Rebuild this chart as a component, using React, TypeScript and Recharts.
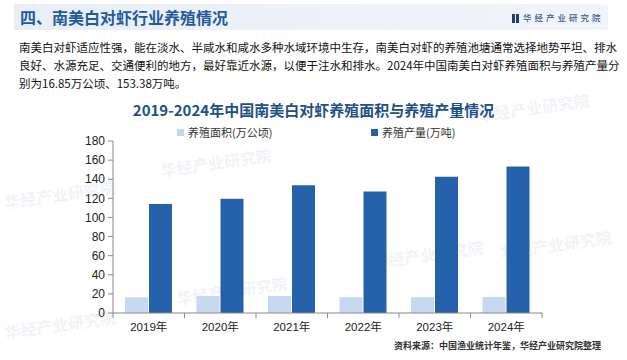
import React from "react";
import { BarChart, Bar, XAxis, YAxis } from "recharts";

const years = ["2019年", "2020年", "2021年", "2022年", "2023年", "2024年"];
const areaValues = [16.4, 17.8, 17.8, 16.5, 16.6, 16.85];
const outputValues = [114.0, 119.6, 133.6, 127.2, 142.6, 153.38];
const yTicks = [0, 20, 40, 60, 80, 100, 120, 140, 160, 180];
const seriesNames = ["养殖面积(万公顷)", "养殖产量(万吨)"];
const watermarkText = "华经产业研究院";
const watermarkSpots = [
  [4, 182],
  [160, 150],
  [478, 95],
  [500, 232],
  [176, 278],
  [372, 242],
  [4, 312],
];

const data = years.map((y, i) => ({ year: y, area: areaValues[i], output: outputValues[i] }));

const LIGHT = "#c6d8ef";
const DARK = "#2461aa";
const AXIS = "#8a8a8a";
const CJK = '"Noto Sans CJK SC", "Microsoft YaHei", sans-serif';
const NUM = '"Liberation Sans", Arial, "Noto Sans CJK SC", sans-serif';

const XTick = (props: any) => {
  const { x, y, payload, index } = props;
  const off = payload && typeof payload.offset === "number" && payload.offset > 0 ? payload.offset : 35.75;
  return (
    <g>
      <line x1={x - off} y1={y} x2={x - off} y2={y + 5} stroke={AXIS} strokeWidth={1} />
      {index === years.length - 1 ? (
        <line x1={x + off} y1={y} x2={x + off} y2={y + 5} stroke={AXIS} strokeWidth={1} />
      ) : null}
      <text x={x} y={y + 18} textAnchor="middle" fill="#222" fontSize={11.5} fontFamily={NUM}>
        {payload.value}
      </text>
    </g>
  );
};

const paragraphLines = [
  "南美白对虾适应性强，能在淡水、半咸水和咸水多种水域环境中生存，南美白对虾的养殖池塘通常选择地势平坦、排水",
  "良好、水源充足、交通便利的地方，最好靠近水源，以便于注水和排水。2024年中国南美白对虾养殖面积与养殖产量分",
  "别为16.85万公顷、153.38万吨。",
];

export default function App() {
  return (
    <div
      style={{
        position: "absolute",
        left: 0,
        top: 0,
        width: 627,
        height: 360,
        background: "#ffffff",
        overflow: "hidden",
        fontFamily: CJK,
      }}
    >
      {/* faint watermarks */}
      {watermarkSpots.map(([wx, wy], i) => (
        <div
          key={"wm" + i}
          style={{
            position: "absolute",
            left: wx,
            top: wy,
            fontSize: 16,
            fontWeight: 700,
            color: "rgba(205,214,228,0.3)",
            transform: "rotate(-8deg)",
            whiteSpace: "nowrap",
          }}
        >
          {watermarkText}
        </div>
      ))}

      {/* header band */}
      <div
        style={{
          position: "absolute",
          left: 14,
          top: 4,
          width: 594,
          height: 26,
          background: "linear-gradient(90deg, #e9eef6 0%, #eef2f8 60%, #f1f4f9 100%)",
        }}
      />
      <div
        style={{
          position: "absolute",
          left: 20,
          top: 4,
          height: 26,
          lineHeight: "26px",
          fontSize: 16,
          fontWeight: 700,
          color: "#1f5a9f",
          whiteSpace: "nowrap",
        }}
      >
        四、南美白对虾行业养殖情况
      </div>
      <div
        style={{
          position: "absolute",
          left: 512,
          top: 4,
          height: 26,
          lineHeight: "26px",
          fontSize: 8.5,
          fontWeight: 500,
          color: "#3a5a8c",
          whiteSpace: "nowrap",
          letterSpacing: 3,
        }}
      >
        <span style={{ display: "inline-block", width: 3, height: 9, background: "#1f3f74", marginRight: 1, verticalAlign: "middle" }} />
        <span style={{ display: "inline-block", width: 3, height: 9, background: "#1f3f74", marginRight: 4, verticalAlign: "middle" }} />
        华经产业研究院
      </div>

      {/* paragraph */}
      {paragraphLines.map((t, i) => (
        <div
          key={i}
          style={{
            position: "absolute",
            left: 19,
            top: 38 + i * 18,
            height: 18,
            lineHeight: "18px",
            fontSize: 11.5,
            color: "#111",
            whiteSpace: "nowrap",
          }}
        >
          {t}
        </div>
      ))}

      {/* chart title */}
      <div
        style={{
          position: "absolute",
          left: 0,
          width: 627,
          top: 99,
          textAlign: "center",
          fontSize: 15,
          fontWeight: 700,
          color: "#244f86",
          lineHeight: "22px",
          whiteSpace: "nowrap",
        }}
      >
        2019-2024年中国南美白对虾养殖面积与养殖产量情况
      </div>

      {/* legend */}
      {[0, 1].map((i) => (
        <div
          key={i}
          style={{
            position: "absolute",
            left: i === 0 ? 177 : 371,
            top: 124,
            height: 16,
            lineHeight: "16px",
            fontSize: 11,
            color: "#333",
            whiteSpace: "nowrap",
            display: "flex",
            alignItems: "center",
          }}
        >
          <span
            style={{
              display: "inline-block",
              width: 7,
              height: 7,
              background: i === 0 ? LIGHT : DARK,
              marginRight: 4,
            }}
          />
          {seriesNames[i]}
        </div>
      ))}

      {/* chart */}
      <div style={{ position: "absolute", left: 0, top: 0 }}>
        <BarChart
          width={627}
          height={360}
          data={data}
          margin={{ top: 141, right: 85, bottom: 17, left: 73 }}
          barSize={23}
          barGap={1}
        >
          <XAxis
            dataKey="year"
            height={30}
            tickLine={false}
            tickSize={0}
            tickMargin={0}
            axisLine={{ stroke: AXIS }}
            tick={<XTick />}
            interval={0}
          />
          <YAxis
            width={40}
            domain={[0, 180]}
            ticks={yTicks}
            interval={0}
            tickSize={5}
            tickMargin={3}
            axisLine={{ stroke: AXIS }}
            tickLine={{ stroke: AXIS }}
            tick={{ fill: "#222", fontSize: 12, fontFamily: NUM }}
          />
          <Bar dataKey="area" name={seriesNames[0]} fill={LIGHT} isAnimationActive={false} />
          <Bar dataKey="output" name={seriesNames[1]} fill={DARK} isAnimationActive={false} />
        </BarChart>
      </div>

      {/* source */}
      <div
        style={{
          position: "absolute",
          left: 394,
          top: 339,
          fontSize: 9,
          fontWeight: 700,
          color: "#333",
          lineHeight: "14px",
          whiteSpace: "nowrap",
        }}
      >
        资料来源：中国渔业统计年鉴，华经产业研究院整理
      </div>
    </div>
  );
}
